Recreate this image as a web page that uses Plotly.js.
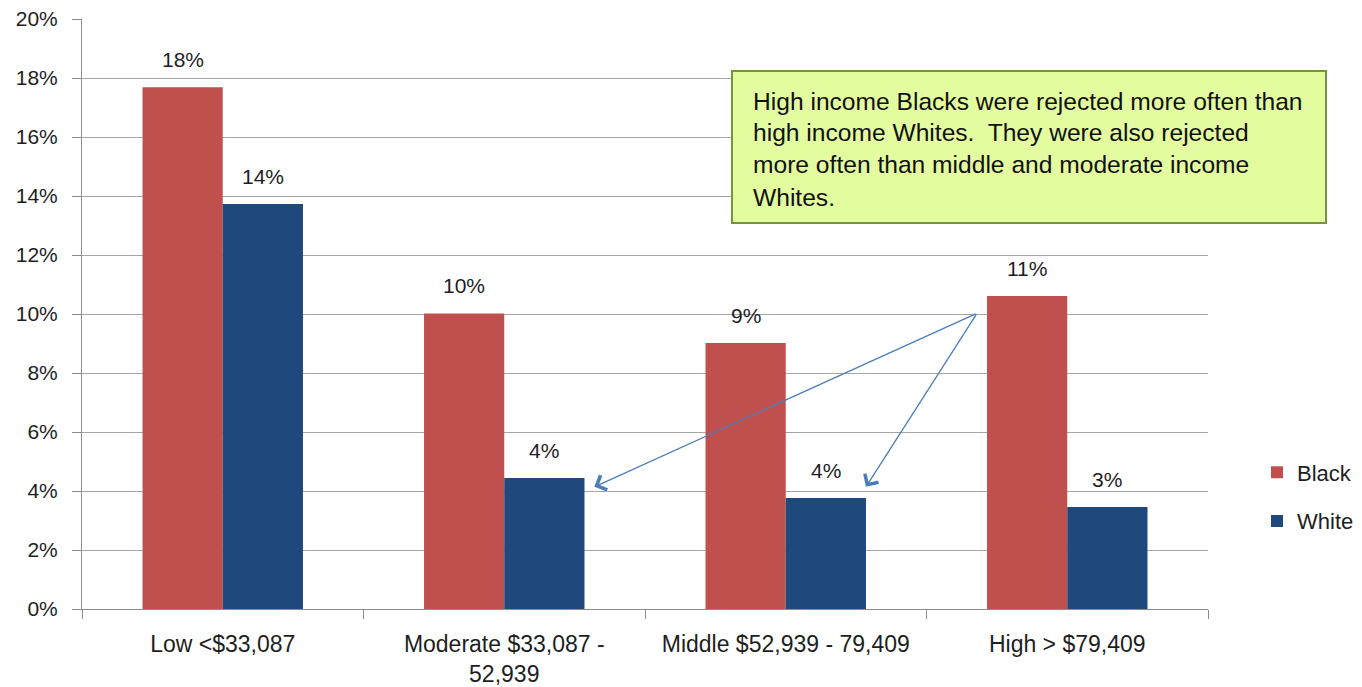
<!DOCTYPE html>
<html>
<head>
<meta charset="utf-8">
<script src="https://cdn.plot.ly/plotly-3.0.1.min.js"></script>
<style>html,body{margin:0;padding:0;background:#fff;}#chart{width:1362px;height:687px;}</style>
</head>
<body>
<div id="chart"></div>
<script>
// ---- data ----
const categories = ['Low <$33,087', 'Moderate $33,087 -<br>52,939', 'Middle $52,939 - 79,409', 'High > $79,409'];
const seriesNames = ['Black', 'White'];
const blackRates = [0.1769, 0.1002, 0.0902, 0.1061];
const whiteRates = [0.1373, 0.0444, 0.0376, 0.0346];
const yTickVals = [0, 0.02, 0.04, 0.06, 0.08, 0.10, 0.12, 0.14, 0.16, 0.18, 0.20];
const noteLines = [
  'High income Blacks were rejected more often than',
  'high income Whites.  They were also rejected',
  'more often than middle and moderate income',
  'Whites.'
];
// arrow: tail near High/Black label, heads at Moderate/White and Middle/White bars
const arrowTail = {x: 2.68, y: 0.1003};
const arrowHeadsX = [1.32, 2.285];
const arrowHeadsY = [0.0414, 0.0414];

// ---- style ----
const colors = ['#C0504D', '#1F497D'];
const FONT = 'Liberation Sans, Arial, sans-serif';
const textColor = '#1e1e1e';
const gridColor = '#A6A6A6';

const traces = [
  {type: 'bar', name: seriesNames[0], x: categories, y: blackRates, marker: {color: colors[0]}, legendgroup: 'a', hoverinfo: 'none'},
  {type: 'bar', name: seriesNames[1], x: categories, y: whiteRates, marker: {color: colors[1]}, legendgroup: 'b', hoverinfo: 'none'}
];

const annotations = [];
const pct = v => Math.round(v * 100) + '%';
categories.forEach((c, i) => {
  annotations.push({x: i, y: blackRates[i], xref: 'x', yref: 'y', text: pct(blackRates[i]), showarrow: false,
    xshift: -40, yshift: 14, yanchor: 'bottom', font: {family: FONT, size: 21, color: textColor}});
  annotations.push({x: i, y: whiteRates[i], xref: 'x', yref: 'y', text: pct(whiteRates[i]), showarrow: false,
    xshift: 40, yshift: 14, yanchor: 'bottom', font: {family: FONT, size: 21, color: textColor}});
});
arrowHeadsX.forEach((hx, k) => {
  annotations.push({x: hx, y: arrowHeadsY[k], xref: 'x', yref: 'y', ax: arrowTail.x, ay: arrowTail.y,
    axref: 'x', ayref: 'y', text: '', showarrow: true, arrowhead: 4, arrowsize: 2.4, arrowwidth: 1.3,
    arrowcolor: '#4A7EBB', standoff: 0});
});
// note box text lines
const pxToPaperX = px => (px - 82) / 1126;
const pxToPaperY = py => (609 - py) / 590;
const noteLineCenters = [101, 132, 164, 197];
noteLines.forEach((t, k) => {
  annotations.push({x: pxToPaperX(751), y: pxToPaperY(noteLineCenters[k]), xref: 'paper', yref: 'paper',
    xanchor: 'left', yanchor: 'middle', text: t, showarrow: false, align: 'left',
    font: {family: FONT, size: 24.6, color: '#111'}});
});

const layout = {
  width: 1362, height: 687,
  margin: {l: 82, r: 154, t: 19, b: 78, autoexpand: false},
  paper_bgcolor: '#ffffff', plot_bgcolor: '#ffffff',
  barmode: 'group', bargap: 0.43, bargroupgap: 0,
  showlegend: true,
  legend: {x: pxToPaperX(1257), xanchor: 'left', y: pxToPaperY(497), yanchor: 'middle',
    traceorder: 'grouped', tracegroupgap: 17, font: {family: FONT, size: 22, color: textColor},
    bgcolor: 'rgba(0,0,0,0)'},
  xaxis: {type: 'category', showline: true, linecolor: '#8C8C8C', linewidth: 1,
    ticks: 'outside', tickson: 'boundaries', ticklen: 9, tickcolor: '#8C8C8C',
    showgrid: false, ticklabelstandoff: 14,
    tickfont: {family: FONT, size: 23, color: textColor}, fixedrange: true},
  yaxis: {range: [0, 0.20], tickvals: yTickVals, tickformat: '.0%', showgrid: true, gridcolor: gridColor,
    gridwidth: 1, zeroline: false, showline: true, linecolor: '#8C8C8C', ticks: 'outside', ticklen: 9,
    tickcolor: '#8C8C8C', ticklabelstandoff: 10,
    tickfont: {family: FONT, size: 21, color: textColor}, fixedrange: true},
  shapes: [{type: 'rect', xref: 'paper', yref: 'paper', x0: pxToPaperX(732), x1: pxToPaperX(1326),
    y0: pxToPaperY(223), y1: pxToPaperY(71), fillcolor: '#E3FCA0', line: {color: '#77933C', width: 2}, layer: 'above'}],
  annotations: annotations
};

Plotly.newPlot('chart', traces, layout, {displayModeBar: false, staticPlot: true});
</script>
</body>
</html>
